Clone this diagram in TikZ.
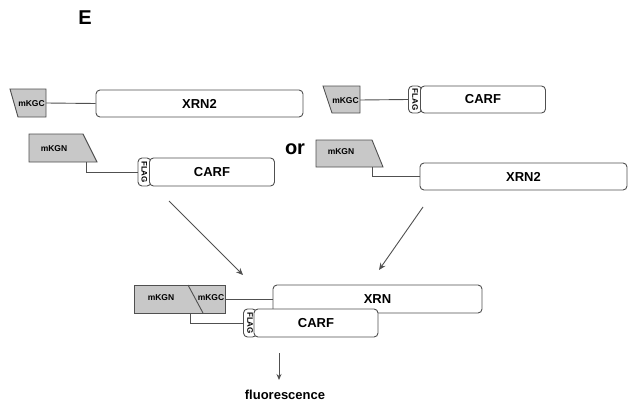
\documentclass[tikz,border=0pt]{standalone}
\usepackage{fontspec}
\setmainfont{Liberation Sans}
\usetikzlibrary{arrows.meta,backgrounds,calc}
\definecolor{edge}{HTML}{505050}
\definecolor{tag}{HTML}{C8C8C8}
\tikzset{
  prot/.style={draw=edge, line width=0.9pt, fill=white, rounded corners=4pt,
    inner sep=0pt, font=\bfseries\fontsize{13}{13}\selectfont},
  flagbox/.style={draw=edge, line width=0.9pt, fill=white, rounded corners=4pt,
    inner sep=0pt, minimum width=13pt},
  flagtxt/.style={font=\bfseries\fontsize{8}{8}\selectfont, rotate=-90, inner sep=0pt},
  tagtxt/.style={font=\bfseries\fontsize{8.5}{8.5}\selectfont, inner sep=0pt},
  tagshape/.style={draw=edge, line width=0.9pt, fill=tag},
  link/.style={draw=edge, line width=0.9pt},
  flow/.style={draw=edge, line width=0.9pt, -{Stealth[length=7pt,width=6pt]}},
  big/.style={font=\bfseries\fontsize{20}{20}\selectfont, inner sep=0pt},
}
\begin{document}
\begin{tikzpicture}[x=1pt,y=-1pt]
\useasboundingbox (0,0) rectangle (631,404);

\node[big] (E) at (85,18) {E};
\node[big] (or) at (295,149) {or};

% ---------- top-left pair ----------
\filldraw[tagshape] (10,89) -- (46,89) -- (46,117) -- (18,117) -- cycle;
\node[tagtxt] (kgc1) at (31.5,104) {mKGC};
\coordinate (kgc1e) at (46,103);
\node[prot, minimum width=207pt, minimum height=27pt] (xrn2a) at (199.5,103.5) {XRN2};
\draw[link] (kgc1e) -- (xrn2a.west);

\filldraw[tagshape] (29,134) -- (83,134) -- (97,162) -- (29,162) -- cycle;
\node[tagtxt] (kgn1) at (54,149) {mKGN};
\coordinate (kgn1s) at (86,162);
\node[flagbox, minimum height=28pt] (flag1) at (144.5,172) {};
\node[flagtxt] at (flag1) {FLAG};
\node[prot, minimum width=125pt, minimum height=28pt] (carf1) at (212,172) {CARF};
\draw[link] (kgn1s) |- (flag1.west);

% ---------- top-right pair ----------
\filldraw[tagshape] (323,86) -- (360,86) -- (360,113) -- (332,113) -- cycle;
\node[tagtxt] (kgc2) at (345.5,101) {mKGC};
\coordinate (kgc2e) at (360,100);
\node[flagbox, minimum height=27pt] (flag2) at (415,99.5) {};
\node[flagtxt] at (flag2) {FLAG};
\node[prot, minimum width=125pt, minimum height=27pt] (carf2) at (483,99.5) {CARF};
\draw[link] (kgc2e) -- (flag2.west);

\filldraw[tagshape] (316,140) -- (372,140) -- (383,167) -- (316,167) -- cycle;
\node[tagtxt] (kgn2) at (341,152) {mKGN};
\coordinate (kgn2s) at (372,167);
\node[prot, minimum width=207pt, minimum height=27pt] (xrn2b) at (523.5,176.5) {XRN2};
\draw[link] (kgn2s) |- (xrn2b.west);

% ---------- arrows ----------
\coordinate (a1s) at (169,201);
\coordinate (a1e) at (243,275);
\coordinate (a2s) at (423,207);
\coordinate (a2e) at (379,270);
\draw[flow] (a1s) -- (a1e);
\draw[flow] (a2s) -- (a2e);

% ---------- complex ----------
\filldraw[tagshape] (134,285) rectangle (225,313);
\draw[link] (188,285) -- (203,313);
\node[tagtxt] (kgn3) at (161,298) {mKGN};
\node[tagtxt] (kgc3) at (211,298) {mKGC};
\coordinate (kgc3e) at (225,299);
\coordinate (kgn3s) at (190,313);
\node[prot, minimum width=209pt, minimum height=28pt] (xrn) at (377.5,299) {XRN};
\draw[link] (kgc3e) -- (xrn.west);
\node[flagbox, minimum height=28pt] (flag3) at (250,323) {};
\node[flagtxt] at (flag3) {FLAG};
\node[prot, minimum width=124pt, minimum height=28pt] (carf3) at (316,323) {CARF};
\draw[link] (kgn3s) |- (flag3.west);

\node[font=\bfseries\fontsize{13}{13}\selectfont, inner sep=0pt] (fl) at (285,395) {fluorescence};
\coordinate (a3s) at (279,353);
\coordinate (a3e) at (279,380);
\draw[link, -{Stealth[length=6pt,width=5pt]}] (a3s) -- (a3e);
\end{tikzpicture}
\end{document}
